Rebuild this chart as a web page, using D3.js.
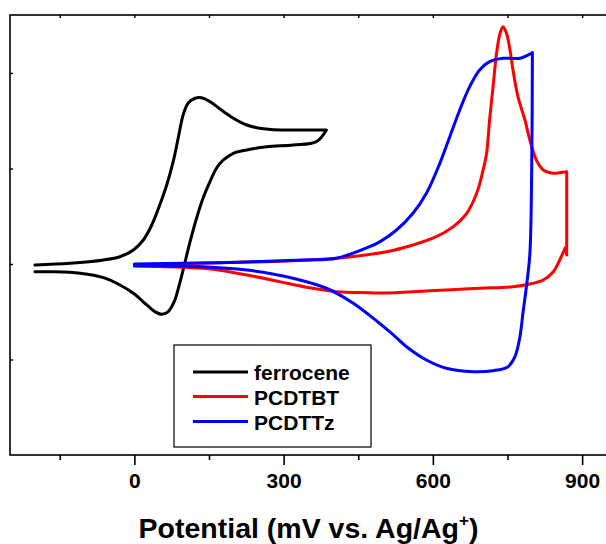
<!DOCTYPE html>
<html>
<head>
<meta charset="utf-8">
<script src="https://cdn.jsdelivr.net/npm/d3@7"></script>
<style>
  html, body { margin: 0; padding: 0; background: #fff; }
  svg { display: block; font-family: "Liberation Sans", Arial, sans-serif; font-weight: bold; }
</style>
</head>
<body>
<svg id="chart" width="606" height="544"></svg>
<script>
// potential (mV) / current (arb. units, one unit = one y tick)
const ferrocene = [
  [-200, -0.01], [-129, 0.007], [-62, 0.042], [-29, 0.076], [-2, 0.147], [18, 0.251],
  [35, 0.408], [51, 0.618], [65, 0.827], [78, 1.071], [88, 1.316], [98, 1.56],
  [108, 1.683], [122, 1.735], [135, 1.741], [152, 1.7], [172, 1.623], [199, 1.526],
  [226, 1.455], [252, 1.421], [293, 1.403], [339, 1.403], [386, 1.403],
  [366, 1.281], [319, 1.246], [266, 1.228], [226, 1.194], [199, 1.159], [179, 1.089],
  [165, 1.002], [152, 0.862], [138, 0.688], [125, 0.479], [112, 0.233], [102, 0.024],
  [92, -0.185], [80, -0.395], [68, -0.499], [55, -0.527], [41, -0.499], [25, -0.429],
  [-2, -0.307], [-29, -0.22], [-62, -0.143], [-109, -0.097], [-163, -0.081], [-200, -0.081]
];

const pcdtbt = [
  [0, -0.01], [172, 0.014], [306, 0.031], [406, 0.06], [507, 0.129], [560, 0.199],
  [607, 0.286], [641, 0.391], [668, 0.531], [688, 0.74], [701, 0.984], [708, 1.159],
  [714, 1.508], [721, 1.857], [728, 2.206], [735, 2.416], [741, 2.485], [748, 2.416],
  [755, 2.241], [761, 2.031], [771, 1.752], [785, 1.508], [795, 1.298], [808, 1.089],
  [822, 0.984], [842, 0.95], [855, 0.956], [869, 0.966],
  [869, 0.094], [866, 0.17], [855, 0.042], [842, -0.081], [822, -0.168], [795, -0.209],
  [761, -0.238], [694, -0.254], [627, -0.272], [560, -0.29], [494, -0.305], [473, -0.301],
  [406, -0.29], [346, -0.244], [292, -0.185], [226, -0.115], [158, -0.055], [105, -0.035],
  [0, -0.021]
];

const pcdttz = [
  [0, 0], [172, 0.014], [339, 0.042], [406, 0.06], [473, 0.181], [494, 0.234],
  [527, 0.356], [560, 0.531], [587, 0.74], [614, 1.054], [634, 1.333], [654, 1.613],
  [674, 1.857], [694, 2.031], [714, 2.118], [741, 2.154], [775, 2.154], [800, 2.213],
  [799, 1.194], [795, 0.112], [788, -0.238], [781, -0.516], [775, -0.761], [765, -0.971],
  [751, -1.075], [721, -1.117], [681, -1.128], [627, -1.092], [587, -1.005], [547, -0.866],
  [513, -0.709], [440, -0.412], [386, -0.254], [306, -0.133], [226, -0.063], [138, -0.028],
  [0, -0.018]
];

// indices of sharp turns (switching potentials) in each trace
const ferroceneCorners = [22];
const pcdtbtCorners = [27, 28, 29];
const pcdttzCorners = [17];

const seriesNames = ['ferrocene', 'PCDTBT', 'PCDTTz'];
const seriesColors = ['#000000', '#ff0000', '#0000ff'];
const xTickValues = [0, 300, 600, 900];
const xMinorTicks = [-150, 150, 450, 750];
const yTickValues = [-1, 0, 1, 2];

const width = 606, height = 544;
const plot = { left: 10, right: 607, top: 15, bottom: 455 };

const svg = d3.select('#chart');

const x = d3.scaleLinear().domain([-250, 950]).range([plot.left, plot.right]);
const y = d3.scaleLinear().domain([-2, 2.607]).range([plot.bottom, plot.top]);

svg.append('defs').append('clipPath').attr('id', 'clip')
  .append('rect')
  .attr('x', plot.left).attr('y', plot.top)
  .attr('width', plot.right - plot.left).attr('height', plot.bottom - plot.top);

// curves, split at the switching points so the smoothing keeps the corners sharp
const line = d3.line()
  .x(d => x(d[0]))
  .y(d => y(d[1]))
  .curve(d3.curveCatmullRom.alpha(0.5));

function splitAt(data, corners) {
  const pieces = [];
  let start = 0;
  corners.forEach(c => {
    pieces.push(data.slice(start, c + 1));
    start = c;
  });
  pieces.push(data.slice(start));
  return pieces;
}

const g = svg.append('g').attr('clip-path', 'url(#clip)');
[[ferrocene, ferroceneCorners], [pcdtbt, pcdtbtCorners], [pcdttz, pcdttzCorners]].forEach(([data, corners], i) => {
  const d = splitAt(data, corners).map(p => line(p)).join('');
  g.append('path')
    .attr('d', d)
    .attr('fill', 'none')
    .attr('stroke', seriesColors[i])
    .attr('stroke-width', 3)
    .attr('stroke-linejoin', 'round')
    .attr('stroke-linecap', 'round');
});

// frame
svg.append('rect')
  .attr('x', plot.left).attr('y', plot.top)
  .attr('width', plot.right - plot.left).attr('height', plot.bottom - plot.top)
  .attr('fill', 'none').attr('stroke', '#000').attr('stroke-width', 1.6);

// bottom axis (outward ticks)
const xAxis = svg.append('g').attr('transform', `translate(0,${plot.bottom})`);
xAxis.call(d3.axisBottom(x).tickValues(xTickValues).tickSize(10).tickPadding(8).tickFormat(d3.format('d')));
xAxis.select('.domain').remove();
xAxis.selectAll('line').attr('stroke-width', 1.6);
xAxis.selectAll('text')
  .attr('font-size', 21).attr('font-family', '"Liberation Sans", Arial, sans-serif')
  .attr('font-weight', 'bold').attr('fill', '#000');

const xMinor = svg.append('g').attr('transform', `translate(0,${plot.bottom})`);
xMinor.call(d3.axisBottom(x).tickValues(xMinorTicks).tickSize(5).tickFormat(''));
xMinor.select('.domain').remove();
xMinor.selectAll('line').attr('stroke-width', 1.6);

// top axis (small inward ticks)
const xTop = svg.append('g').attr('transform', `translate(0,${plot.top})`);
xTop.call(d3.axisBottom(x).tickValues(xTickValues.concat(xMinorTicks)).tickSize(3).tickFormat(''));
xTop.select('.domain').remove();
xTop.selectAll('line').attr('stroke-width', 1.4);

// left axis (inward ticks, no labels)
const yAxis = svg.append('g').attr('transform', `translate(${plot.left},0)`);
yAxis.call(d3.axisRight(y).tickValues(yTickValues).tickSize(3).tickFormat(''));
yAxis.select('.domain').remove();
yAxis.selectAll('line').attr('stroke-width', 1.4);

// axis title
const title = svg.append('text')
  .attr('x', (plot.left + plot.right) / 2)
  .attr('y', 538)
  .attr('text-anchor', 'middle')
  .attr('font-size', 28.5)
  .attr('fill', '#000');
title.append('tspan').text('Potential (mV vs. Ag/Ag');
title.append('tspan').attr('font-size', 17).attr('dy', -12).text('+');
title.append('tspan').attr('dy', 12).text(')');

// legend
const legend = svg.append('g');
legend.append('rect')
  .attr('x', 174).attr('y', 345).attr('width', 197).attr('height', 102)
  .attr('fill', '#fff').attr('stroke', '#000').attr('stroke-width', 1.2);

const rowY = [372, 396.5, 421.5];
seriesNames.forEach((name, i) => {
  legend.append('line')
    .attr('x1', 193).attr('x2', 248)
    .attr('y1', rowY[i]).attr('y2', rowY[i])
    .attr('stroke', seriesColors[i]).attr('stroke-width', 3);
  legend.append('text')
    .attr('x', 254).attr('y', rowY[i] + 8)
    .attr('font-size', 21).attr('fill', '#000')
    .text(name);
});
</script>
</body>
</html>
